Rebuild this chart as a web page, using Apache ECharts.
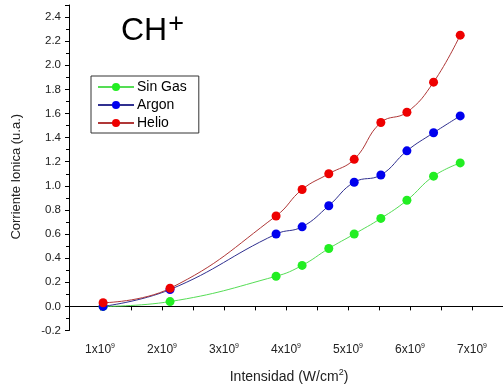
<!DOCTYPE html>
<html>
<head>
<meta charset="utf-8">
<script src="https://cdn.jsdelivr.net/npm/echarts@6/dist/echarts.min.js"></script>
<style>
  html, body { margin: 0; padding: 0; background: #fff; }
  #chart { width: 503px; height: 389px; }
</style>
</head>
<body>
<div id="chart"></div>
<script>
// intensidad, in units of 1e9 W/cm2
var intensidad = [1.05, 2.13, 3.84, 4.26, 4.69, 5.10, 5.53, 5.95, 6.38, 6.81];
var sinGas = [0.00, 0.04, 0.25, 0.34, 0.48, 0.60, 0.73, 0.88, 1.08, 1.19];
var argon = [0.00, 0.14, 0.60, 0.66, 0.835, 1.03, 1.09, 1.29, 1.44, 1.58];
var helio = [0.03, 0.15, 0.75, 0.97, 1.10, 1.22, 1.525, 1.61, 1.86, 2.25];

var font = 'Liberation Sans, Arial, sans-serif';

function pairs(ys) {
    return intensidad.map(function (x, i) { return [x, ys[i]]; });
}

function makeSeries(name, ys, dot, line) {
    return {
        name: name,
        type: 'line',
        data: pairs(ys),
        smooth: 0.45,
        symbol: 'circle',
        symbolSize: 9,
        itemStyle: { color: dot },
        lineStyle: { color: line, width: 1 },
        emphasis: { disabled: true }
    };
}

var myChart = echarts.init(document.getElementById('chart'));
myChart.setOption({
    animation: false,
    backgroundColor: '#fff',
    textStyle: { fontFamily: font },
    title: {
        text: '{b|CH}{s|+}',
        left: 116,
        top: 6,
        textStyle: {
            fontWeight: 'normal',
            rich: {
                b: { fontSize: 32, fontWeight: 'normal', fontFamily: font, color: '#000', verticalAlign: 'bottom', lineHeight: 36 },
                s: { fontSize: 27, fontWeight: 'normal', fontFamily: font, color: '#000', verticalAlign: 'top', padding: [0, 0, 14, 1], lineHeight: 24 }
            }
        }
    },
    legend: {
        left: 91,
        top: 76,
        orient: 'vertical',
        padding: [4, 12, 3, 6],
        itemGap: 4,
        itemWidth: 36,
        itemHeight: 10,
        borderColor: '#333',
        borderWidth: 1,
        borderRadius: 0,
        textStyle: { fontSize: 14, color: '#000', fontFamily: font, padding: [0, 0, 0, -2] },
        data: ['Sin Gas', 'Argon', 'Helio']
    },
    grid: { left: 69, right: -8, top: 5, bottom: 58, containLabel: false },
    xAxis: {
        type: 'value',
        min: 0.5,
        max: 7.5,
        interval: 0.5,
        name: 'Intensidad (W/cm{s|2})',
        nameLocation: 'middle',
        nameGap: 38,
        nameTextStyle: {
            fontSize: 14, color: '#222', fontFamily: font,
            padding: [0, 0, 0, 6],
            rich: { s: { fontSize: 9, color: '#222', fontFamily: font, verticalAlign: 'top', padding: [0, 0, 8, 0] } }
        },
        axisLine: { lineStyle: { color: '#000', width: 1 } },
        axisTick: { show: true, inside: false, length: 4, lineStyle: { color: '#000' } },
        splitLine: { show: false },
        axisLabel: {
            margin: 12,
            fontSize: 12,
            color: '#222',
            showMaxLabel: false,
            formatter: function (v) {
                return Number.isInteger(v) ? '{b|' + v + 'x10}{s|9}' : '';
            },
            rich: {
                b: { fontSize: 12, color: '#222', fontFamily: font },
                s: { fontSize: 7, color: '#222', fontFamily: font, verticalAlign: 'top', padding: [0, 0, 7, 0] }
            }
        }
    },
    yAxis: {
        type: 'value',
        min: -0.2,
        max: 2.5,
        interval: 0.2,
        name: 'Corriente Ionica (u.a.)',
        nameLocation: 'middle',
        nameGap: 46,
        nameTextStyle: { fontSize: 13, color: '#222', fontFamily: font, padding: [0, 0, 0, -18] },
        axisLine: { show: true, lineStyle: { color: '#000', width: 1 } },
        axisTick: { show: true, inside: false, length: 4, lineStyle: { color: '#000' } },
        minorTick: { show: true, splitNumber: 2, length: 3, lineStyle: { color: '#000' } },
        splitLine: { show: false },
        axisLabel: {
            margin: 8,
            fontSize: 11.5,
            color: '#222',
            showMaxLabel: false,
            formatter: function (v) { return v.toFixed(1); }
        }
    },
    series: [
        makeSeries('Sin Gas', sinGas, '#22ee22', '#55dd55'),
        makeSeries('Argon', argon, '#0000ee', '#303090'),
        makeSeries('Helio', helio, '#ee0000', '#b03838')
    ]
});
</script>
</body>
</html>
